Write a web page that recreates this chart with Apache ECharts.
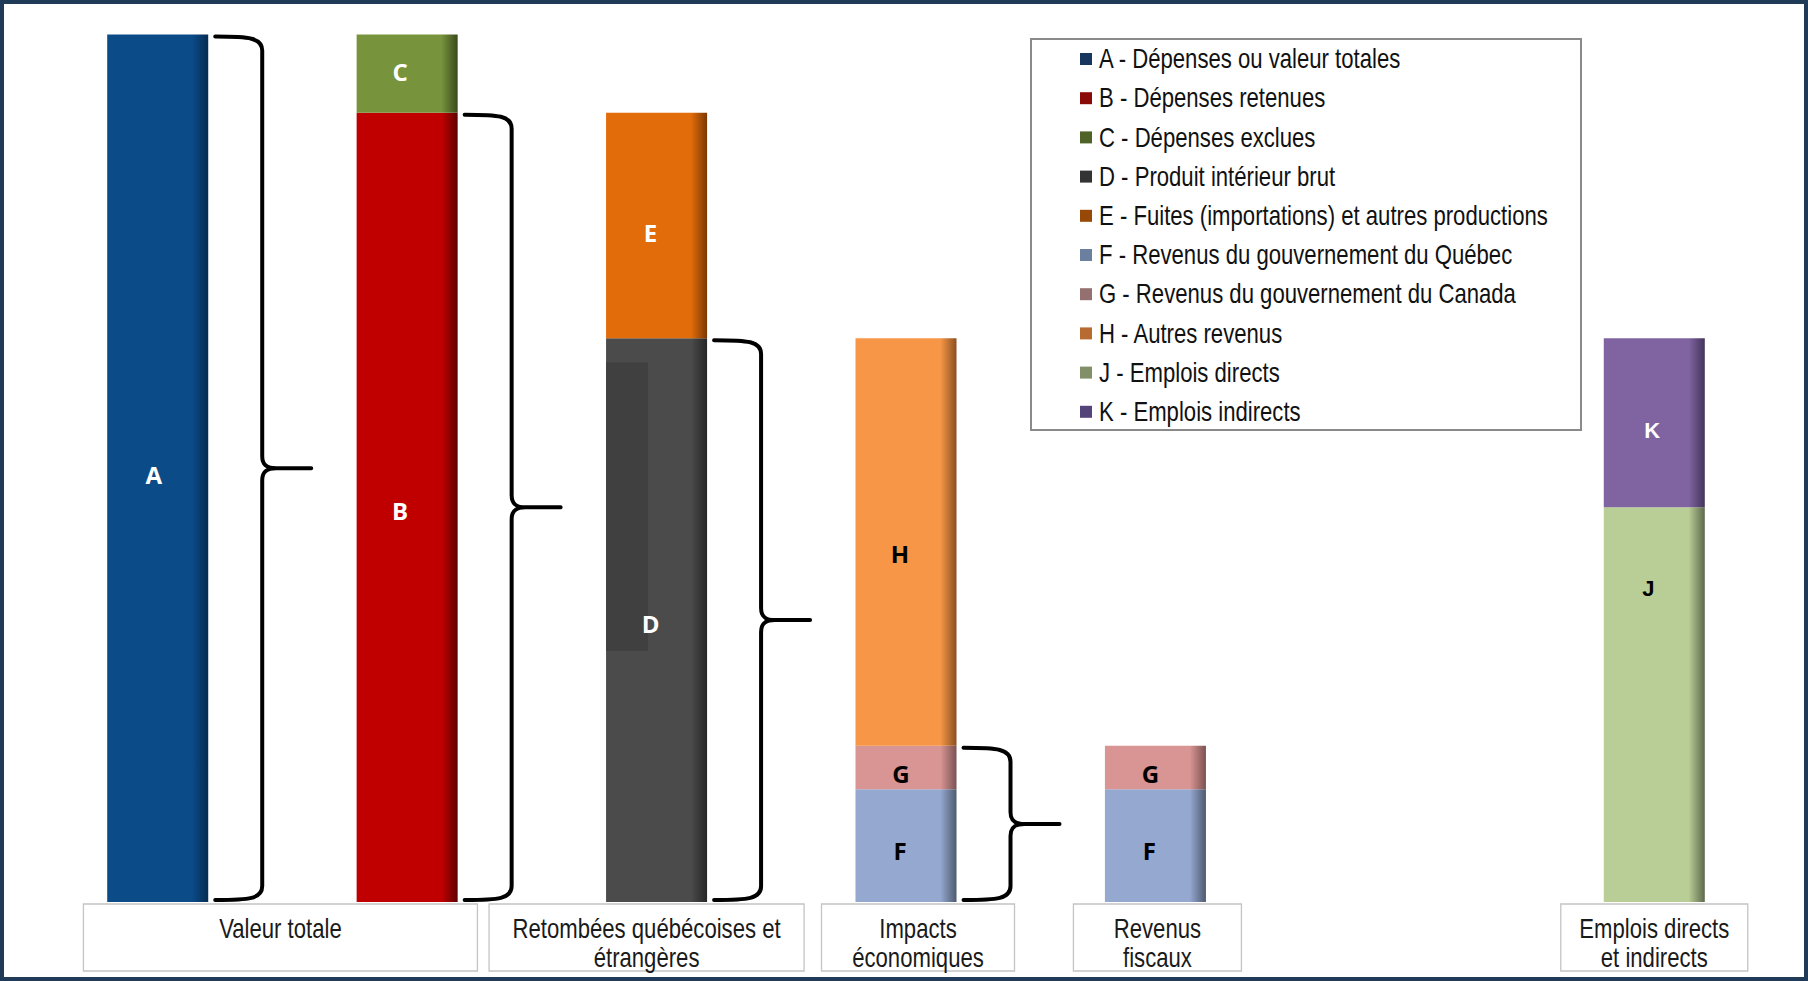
<!DOCTYPE html>
<html>
<head>
<meta charset="utf-8">
<script src="https://cdn.jsdelivr.net/npm/echarts@6/dist/echarts.min.js"></script>
<style>
  html, body { margin: 0; padding: 0; background: #ffffff; }
  #chart { width: 1808px; height: 981px; }
</style>
</head>
<body>
<div id="chart"></div>
<script>
// Column slots (slot 5 is left empty as a spacer)
const categories = ['A', 'B + C', 'D + E', 'F + G + H', 'F + G', '', 'J + K'];

// Series names shown in the legend
const seriesNames = [
  'A - Dépenses ou valeur totales',
  'B - Dépenses retenues',
  'C - Dépenses exclues',
  'D - Produit intérieur brut',
  'E - Fuites (importations) et autres productions',
  'F - Revenus du gouvernement du Québec',
  'G - Revenus du gouvernement du Canada',
  'H - Autres revenus',
  'J - Emplois directs',
  'K - Emplois indirects'
];

// Values, in percent of total value (A = 100)
const valuesA = [100, null, null, null, null, null, null];
const valuesB = [null, 91, null, null, null, null, null];
const valuesC = [null, 9, null, null, null, null, null];
const valuesD = [null, null, 65, null, null, null, null];
const valuesE = [null, null, 26, null, null, null, null];
const valuesF = [null, null, null, 13, 13, null, null];
const valuesG = [null, null, null, 5, 5, null, null];
const valuesH = [null, null, null, 47, null, null, null];
const valuesJ = [null, null, null, null, null, null, 45.5];
const valuesK = [null, null, null, null, null, null, 19.5];

// Group captions under the columns and the slots each one covers
const groupLabels = [
  'Valeur totale',
  'Retombées québécoises et\nétrangères',
  'Impacts\néconomiques',
  'Revenus\nfiscaux',
  'Emplois directs\net indirects'
];
const groupSpans = [[0, 1], [2, 2], [3, 3], [4, 4], [6, 6]];

// Curly braces: [slot, top of the bracketed stack]
const braces = [
  [0, valuesA[0]],
  [1, valuesB[1]],
  [2, valuesD[2]],
  [3, valuesF[3] + valuesG[3]]
];

// ---- styling ----
const BAR_RATIO = 0.405;
// Narrow sans: Liberation Sans squeezed horizontally
const SANS = "'Liberation Sans', Arial, sans-serif";
const NARROW_SCALE = 0.82;
const boxLayout = [
  { dx: -2, w: 394 },
  { dx: -10, w: 315 },
  { dx: 12, w: 193 },
  { dx: 2, w: 168 },
  { dx: 0, w: 187 }
];

const palette = {
  A: { main: '#0a4b88', dark: '#062c50', legend: '#17375e', label: '#ffffff', off: [-4, 6] },
  B: { main: '#c00000', dark: '#5e0000', legend: '#8a0a0a', label: '#ffffff', off: [-7, 3] },
  C: { main: '#77933c', dark: '#3a4a1c', legend: '#4f6228', label: '#ffffff', off: [-7, -2] },
  D: { main: '#4b4b4b', dark: '#262626', legend: '#333333', label: '#ffffff', off: [-6, 3] },
  E: { main: '#e36c0a', dark: '#7a3805', legend: '#984807', label: '#ffffff', off: [-6, 7] },
  F: { main: '#95a8d0', dark: '#4e5a70', legend: '#6b7f9e', label: '#000000', off: [-6, 5] },
  G: { main: '#d99594', dark: '#7a5252', legend: '#957070', label: '#000000', off: [-5, 6] },
  H: { main: '#f79646', dark: '#8a5022', legend: '#b86b30', label: '#000000', off: [-6, 11] },
  J: { main: '#b9cd96', dark: '#5e694c', legend: '#819068', label: '#000000', off: [-6, -116] },
  K: { main: '#8064a2', dark: '#43355a', legend: '#54447a', label: '#ffffff', off: [-2, 8] }
};

const letters = ['A', 'B', 'C', 'D', 'E', 'F', 'G', 'H', 'J', 'K'];
const valueLists = [valuesA, valuesB, valuesC, valuesD, valuesE, valuesF, valuesG, valuesH, valuesJ, valuesK];

function barGradient(p) {
  return new echarts.graphic.LinearGradient(0, 0, 1, 0, [
    { offset: 0, color: p.main },
    { offset: 0.84, color: p.main },
    { offset: 1, color: p.dark }
  ]);
}

const barSeries = letters.map((L, i) => {
  const p = palette[L];
  const arial = (L === 'J' || L === 'K');
  return {
    name: seriesNames[i],
    type: 'bar',
    stack: 'total',
    z: 2,
    barWidth: (BAR_RATIO * 100) + '%',
    data: valueLists[i],
    itemStyle: { color: barGradient(p) },
    label: {
      show: true,
      position: 'inside',
      formatter: L,
      color: p.label,
      offset: p.off,
      fontFamily: arial ? SANS : "'Open Sans', sans-serif",
      fontWeight: 'bold',
      fontSize: arial ? 22 : 24
    },
    emphasis: { disabled: true }
  };
});

function renderBrace(params, api) {
  const cat = api.value(0);
  const top = api.value(1);
  const base = api.coord([cat, 0]);
  const peak = api.coord([cat, top]);
  const slot = api.size([1, 0])[0];
  const right = base[0] + slot * BAR_RATIO / 2;
  const xs = right + 7, xv = right + 54, xp = right + 103;
  const yT = peak[1] + 2, yB = base[1] - 2, yM = (yT + yB) / 2;
  const d =
    'M' + xs + ',' + yT +
    ' C' + (xs + 34) + ',' + yT + ' ' + xv + ',' + (yT + 1) + ' ' + xv + ',' + (yT + 14) +
    ' L' + xv + ',' + (yM - 12) +
    ' C' + xv + ',' + (yM - 3) + ' ' + (xv + 5) + ',' + yM + ' ' + (xv + 14) + ',' + yM +
    ' L' + xp + ',' + yM +
    ' M' + (xv + 14) + ',' + yM +
    ' C' + (xv + 5) + ',' + yM + ' ' + xv + ',' + (yM + 3) + ' ' + xv + ',' + (yM + 12) +
    ' L' + xv + ',' + (yB - 14) +
    ' C' + xv + ',' + (yB - 1) + ' ' + (xs + 34) + ',' + yB + ' ' + xs + ',' + yB;
  return {
    type: 'path',
    shape: { pathData: d },
    style: { fill: null, stroke: '#000000', lineWidth: 4, lineCap: 'round', lineJoin: 'round' }
  };
}

// Darker inset panel on the left part of the GDP column
function renderInset(params, api) {
  const cat = api.value(0);
  const top = api.value(1);
  const base = api.coord([cat, 0]);
  const peak = api.coord([cat, top]);
  const slot = api.size([1, 0])[0];
  const left = base[0] - slot * BAR_RATIO / 2;
  const y0 = peak[1] + 24;
  const y1 = base[1] - 251;
  return {
    type: 'rect',
    z2: 1,
    shape: { x: left, y: y0, width: 42, height: y1 - y0 },
    style: { fill: '#404040' }
  };
}

function renderGroupBox(params, api) {
  const i = params.dataIndex;
  const lay = boxLayout[i];
  const a = api.coord([api.value(0), 0]);
  const b = api.coord([api.value(1), 0]);
  const cx = (a[0] + b[0]) / 2 + lay.dx;
  const y = a[1] + 2;
  return {
    type: 'group',
    children: [
      {
        type: 'rect',
        shape: { x: cx - lay.w / 2, y: y, width: lay.w, height: 67 },
        style: { fill: '#ffffff', stroke: '#c4c4c4', lineWidth: 1.3 }
      },
      {
        type: 'text',
        x: cx, y: y + 10,
        scaleX: NARROW_SCALE,
        style: {
          text: groupLabels[i],
          x: 0, y: 0,
          align: 'center', verticalAlign: 'top',
          fontFamily: SANS, fontSize: 27, lineHeight: 29,
          fill: '#1a1a1a'
        }
      }
    ]
  };
}

// Legend drawn as a boxed list of swatches and condensed captions
const LEGEND = { x: 1031, y: 39, w: 550, h: 391, iconX: 1080, textX: 1099, firstRow: 59, rowGap: 39.2 };
const legendItems = [];
letters.forEach((L, i) => {
  const cy = LEGEND.firstRow + i * LEGEND.rowGap;
  legendItems.push({
    type: 'rect',
    shape: { x: LEGEND.iconX, y: cy - 6, width: 12, height: 12 },
    style: { fill: palette[L].legend }
  });
  legendItems.push({
    type: 'text',
    x: LEGEND.textX, y: cy,
    scaleX: NARROW_SCALE,
    style: {
      text: seriesNames[i],
      x: 0, y: 0,
      align: 'left', verticalAlign: 'middle',
      fontFamily: SANS, fontSize: 27,
      fill: '#111111'
    }
  });
});

const chart = echarts.init(document.getElementById('chart'), null, { renderer: 'svg' });

chart.setOption({
  animation: false,
  backgroundColor: '#ffffff',
  grid: { left: 33, right: 29, top: 34.6, bottom: 79, containLabel: false },
  xAxis: {
    type: 'category',
    data: categories,
    axisLine: { show: false },
    axisTick: { show: false },
    axisLabel: { show: false },
    splitLine: { show: false }
  },
  yAxis: {
    type: 'value',
    min: 0,
    max: 100,
    show: false
  },
  graphic: [
    {
      type: 'group',
      z: 10,
      children: [
        {
          type: 'rect',
          shape: { x: LEGEND.x, y: LEGEND.y, width: LEGEND.w, height: LEGEND.h },
          style: { fill: '#ffffff', stroke: '#8a8a8a', lineWidth: 2 }
        }
      ].concat(legendItems)
    },
    {
      type: 'rect',
      z: 20,
      shape: { x: 2, y: 2, width: 1804, height: 977 },
      style: { fill: null, stroke: '#1f3b58', lineWidth: 4 }
    }
  ],
  series: barSeries.concat([
    {
      type: 'custom',
      name: 'inset',
      renderItem: renderInset,
      data: [[2, valuesD[2]]],
      clip: false,
      z: 2,
      silent: true
    },
    {
      type: 'custom',
      name: 'braces',
      renderItem: renderBrace,
      data: braces,
      clip: false,
      z: 5,
      silent: true
    },
    {
      type: 'custom',
      name: 'groups',
      renderItem: renderGroupBox,
      data: groupSpans,
      clip: false,
      z: 5,
      silent: true
    }
  ])
});
</script>
</body>
</html>
